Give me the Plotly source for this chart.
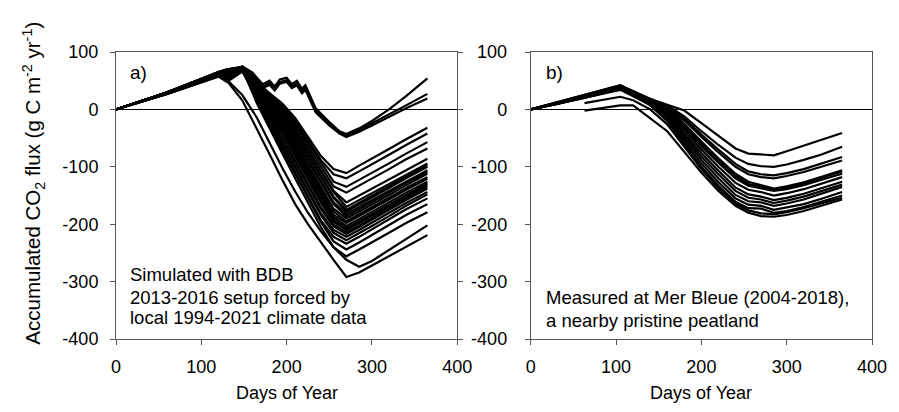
import plotly.graph_objects as go

# ---------------- Panel a) simulated (BDB, 1994-2021) ----------------
sim_days = [0, 60, 120, 130, 148, 165, 180, 195, 210, 225, 240, 255, 270, 285, 300, 320, 340, 365]

sim_main = [
    [0, 28, 60, 64, 66, 46, 28, 10, -15, -48, -81, -104, -111, -98, -85, -69, -52, -32],
    [0, 29, 62, 52, 70, 48, 28, 8, -20, -54, -88, -113, -120, -108, -95, -79, -62, -42],
    [0, 30, 64, 68, 72, 48, 28, 7, -23, -58, -92, -126, -135, -123, -110, -94, -77, -57],
    [0, 28, 60, 58, 68, 45, 24, 4, -28, -63, -99, -134, -145, -133, -120, -104, -87, -68],
    [0, 30, 65, 70, 74, 48, 25, 2, -34, -70, -106, -142, -162, -150, -138, -122, -105, -86],
    [0, 29, 62, 50, 70, 45, 22, 0, -36, -72, -108, -144, -170, -158, -146, -130, -113, -94],
    [0, 30, 63, 66, 72, 45, 21, -5, -42, -78, -115, -152, -175, -163, -150, -134, -117, -97],
    [0, 27, 58, 56, 66, 40, 18, -7, -44, -81, -118, -154, -178, -166, -153, -137, -120, -100],
    [0, 29, 61, 64, 70, 42, 17, -12, -50, -88, -125, -162, -182, -170, -158, -142, -125, -106],
    [0, 30, 65, 69, 74, 43, 16, -15, -52, -90, -128, -165, -186, -174, -161, -145, -128, -109],
    [0, 28, 60, 49, 68, 38, 12, -20, -59, -97, -135, -173, -190, -178, -165, -149, -132, -112],
    [0, 30, 63, 67, 72, 39, 10, -26, -64, -102, -140, -178, -195, -183, -170, -154, -137, -118],
    [0, 27, 58, 60, 66, 35, 7, -29, -68, -107, -146, -184, -198, -186, -173, -157, -140, -121],
    [0, 29, 62, 65, 70, 35, 4, -34, -73, -112, -151, -188, -203, -191, -178, -162, -145, -126],
    [0, 30, 65, 70, 74, 36, 2, -37, -77, -117, -156, -192, -207, -195, -182, -166, -149, -129],
    [0, 28, 60, 53, 68, 31, -3, -42, -82, -122, -162, -196, -210, -198, -185, -169, -152, -132],
    [0, 30, 63, 67, 72, 30, -8, -49, -89, -130, -170, -201, -214, -202, -189, -173, -155, -135],
    [0, 29, 61, 63, 70, 28, -11, -51, -92, -132, -173, -204, -217, -205, -192, -176, -158, -138],
    [0, 27, 57, 48, 66, 23, -16, -58, -99, -140, -181, -210, -222, -210, -197, -181, -163, -144],
    [0, 30, 63, 66, 72, 23, -19, -60, -102, -143, -184, -215, -228, -216, -203, -186, -168, -148],
    [0, 29, 62, 64, 70, 18, -25, -67, -109, -151, -193, -222, -234, -222, -209, -192, -174, -155],
    [0, 28, 60, 58, 68, 15, -28, -70, -112, -154, -196, -230, -244, -232, -219, -202, -184, -165],
    [0, 30, 64, 67, 72, 11, -34, -77, -120, -162, -205, -240, -256, -244, -232, -215, -198, -179],
]

sim_low = [
    [0, 28, 60, 50, 16, -33, -78, -123, -165, -200, -232, -262, -292, -284, -272, -256, -240, -219],
    [0, 28, 62, 52, 25, -14, -58, -102, -143, -180, -212, -240, -262, -274, -264, -245, -227, -202],
]

up_days = [0, 60, 120, 130, 148, 160, 172, 180, 186, 192, 200, 206, 212, 218, 222, 234, 250, 262, 270, 285, 300, 320, 340, 365]
sim_upper = [
    [0, 30, 64, 62, 75, 64, 44, 50, 40, 52, 55, 44, 50, 36, 42, 2, -22, -38, -43, -33, -20, 0, 23, 54],
    [0, 29, 62, 60, 73, 61, 40, 46, 36, 48, 51, 40, 46, 32, 38, -2, -25, -40, -46, -36, -24, -9, 7, 27],
    [0, 30, 63, 61, 72, 59, 37, 43, 33, 45, 48, 37, 42, 28, 34, -5, -28, -42, -48, -39, -28, -13, 2, 19],
]

# ---------------- Panel b) measured at Mer Bleue (2004-2018) ----------------
mb_days = [0, 30, 60, 90, 105, 120, 140, 160, 180, 200, 220, 240, 255, 270, 285, 300, 320, 340, 365]
mb_full = [
    [0, 9, 19, 30, 35, 28, 18, 9, -2, -24, -46, -68, -77, -79, -80, -73, -63, -53, -41],
    [0, 10, 21, 33, 38, 29, 18, 7, -12, -38, -62, -84, -95, -99, -100, -96, -88, -79, -65],
    [0, 11, 23, 35, 40, 31, 18, 6, -16, -44, -70, -95, -108, -113, -115, -111, -104, -95, -83],
    [0, 9, 20, 31, 36, 27, 16, 5, -19, -48, -75, -100, -113, -118, -120, -116, -109, -100, -89],
    [0, 12, 24, 37, 42, 32, 18, 4, -25, -56, -85, -112, -126, -132, -138, -134, -127, -118, -106],
    [0, 10, 21, 33, 38, 28, 15, 2, -28, -60, -89, -116, -130, -134, -140, -136, -129, -120, -108],
    [0, 11, 22, 35, 40, 29, 15, 0, -31, -64, -93, -120, -133, -137, -142, -139, -132, -123, -112],
    [0, 12, 24, 37, 42, 31, 15, -2, -35, -70, -100, -128, -140, -144, -150, -146, -139, -130, -118],
    [0, 9, 20, 31, 36, 26, 12, -5, -40, -76, -107, -136, -148, -152, -158, -154, -147, -138, -126],
    [0, 11, 22, 35, 40, 28, 12, -8, -45, -82, -113, -142, -154, -157, -163, -159, -152, -143, -131],
    [0, 10, 21, 33, 38, 26, 11, -12, -50, -88, -120, -149, -160, -162, -168, -164, -157, -147, -135],
    [0, 9, 19, 29, 34, 23, 8, -16, -55, -94, -127, -155, -166, -168, -175, -171, -165, -156, -144],
    [0, 10, 20, 32, 37, 24, 7, -20, -60, -100, -133, -161, -172, -173, -180, -177, -170, -161, -150],
]
mb_late_days = [63, 90, 105, 120, 140, 160, 180, 200, 220, 240, 255, 270, 285, 300, 320, 340, 365]
mb_late = [
    [11, 18, 22, 16, 0, -26, -64, -104, -137, -164, -176, -181, -183, -179, -172, -164, -154],
    [-2, 4, 7, 7, -15, -38, -74, -110, -142, -168, -180, -186, -187, -184, -177, -168, -157],
]

x_ticks = [0, 100, 200, 300, 400]
y_ticks = [-400, -300, -200, -100, 0, 100]
y_tick_labels = ["-400", "-300", "-200", "-100", "0", "100"]

FONT = "Liberation Sans, Arial, sans-serif"
LINE = dict(color="black", width=2.2)

fig = go.Figure()

def add(days, vals, xa, ya):
    fig.add_trace(go.Scatter(x=days, y=vals, mode="lines", line=LINE,
                             xaxis=xa, yaxis=ya, showlegend=False, hoverinfo="skip"))

for row in sim_main:
    add(sim_days, row, "x", "y")
for row in sim_low:
    add(sim_days, row, "x", "y")
for row in sim_upper:
    add(up_days, row, "x", "y")
for row in mb_full:
    add(mb_days, row, "x2", "y2")
for row in mb_late:
    add(mb_late_days, row, "x2", "y2")

axis_common = dict(showgrid=False, linecolor="#555", linewidth=1, ticks="outside",
                   ticklen=5, tickcolor="#555", tickfont=dict(family=FONT, size=18, color="black"))

fig.update_layout(
    width=899, height=412,
    margin=dict(l=116, r=21, t=52, b=73),
    plot_bgcolor="white", paper_bgcolor="white",
    font=dict(family=FONT, color="black"),
    xaxis=dict(domain=[0, 0.4514], range=[0, 400], tickvals=x_ticks, zeroline=False,
               mirror=True, ticklabelstandoff=6, anchor="y", **axis_common),
    yaxis=dict(range=[-400, 100], tickvals=y_ticks, ticktext=y_tick_labels, zeroline=True,
               zerolinecolor="black", zerolinewidth=1, mirror="ticks", ticklabelstandoff=8,
               anchor="x", **axis_common),
    xaxis2=dict(domain=[0.5486, 1], range=[0, 400], tickvals=x_ticks, zeroline=False,
                mirror=True, ticklabelstandoff=6, anchor="y2", **axis_common),
    yaxis2=dict(range=[-400, 100], tickvals=y_ticks, ticktext=y_tick_labels, zeroline=True,
                zerolinecolor="black", zerolinewidth=1, mirror=True, ticklabelstandoff=14,
                anchor="x2", **axis_common),
)

def note(text, x, y, xanchor="left", size=18.5, angle=0):
    fig.add_annotation(text=text, x=x, y=y, xref="paper", yref="paper", showarrow=False,
                       xanchor=xanchor, yanchor="middle", textangle=angle,
                       font=dict(family=FONT, size=size, color="black"))

note("a)", 0.0157, 0.930, size=19)
note("b)", 0.5656, 0.930, size=19)
note("Simulated with BDB", 0.0157, 0.223)
note("2013-2016 setup forced by", 0.0157, 0.1463)
note("local 1994-2021 climate data", 0.0157, 0.0732)
note("Measured at Mer Bleue (2004-2018),", 0.5656, 0.1429)
note("a nearby pristine peatland", 0.5656, 0.0662)
note("Days of Year", 0.2257, -0.188, xanchor="center", size=18)
note("Days of Year", 0.7743, -0.188, xanchor="center", size=18)
note("Accumulated CO<sub>2</sub> flux (g C m<sup>-2</sup> yr<sup>-1</sup>)", -0.1089, 0.5436,
     xanchor="center", size=20.5, angle=-90)

fig.write_html("out.html")
